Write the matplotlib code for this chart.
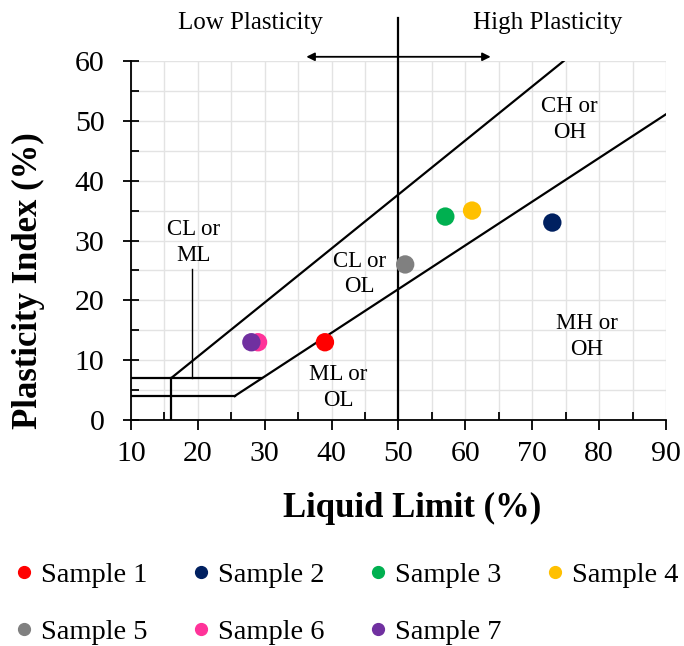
import matplotlib
matplotlib.use('Agg')
import matplotlib.pyplot as plt
from matplotlib.lines import Line2D

plt.rcParams['font.family'] = ['Liberation Serif', 'DejaVu Serif']

# sample results (liquid limit, plasticity index)
samples = ['Sample 1', 'Sample 2', 'Sample 3', 'Sample 4', 'Sample 5', 'Sample 6', 'Sample 7']
liquid_limit = [39, 73, 57, 61, 51, 29, 28]
plasticity_index = [13, 33, 34, 35, 26, 13, 13]
colors = ['#ff0000', '#002060', '#00b050', '#ffc000', '#808080', '#ff3399', '#7030a0']

# chart boundary lines
u_line_ll = [16, 74.7]
u_line_pi = [7, 60]
a_line_ll = [25.5, 90]
a_line_pi = [4, 51.1]
pi7_ll = [10, 29.6]
pi4_ll = [10, 25.5]

zone_labels = ['CH or\nOH', 'CL or\nML', 'CL or\nOL', 'ML or\nOL', 'MH or\nOH']
zone_ll = [75.6, 19.3, 44.2, 41.0, 78.2]
zone_pi = [50.2, 29.6, 24.4, 5.4, 13.9]

fig = plt.figure(figsize=(6.84, 6.46), dpi=100)
ax = fig.add_axes([0.1915, 0.3498, 0.7822, 0.5558])

ax.set_xlim(10, 90)
ax.set_ylim(0, 60)
ax.set_xticks(range(10, 91, 10))
ax.set_yticks(range(0, 61, 10))
ax.set_xticks(range(15, 90, 10), minor=True)
ax.set_yticks(range(5, 60, 10), minor=True)
ax.grid(True, which='both', color='#e3e3e3', lw=1.0, zorder=0)
ax.set_axisbelow(True)
for s in ['top', 'right']:
    ax.spines[s].set_visible(False)
for s in ['left', 'bottom']:
    ax.spines[s].set_linewidth(1.3)

ax.tick_params(axis='x', which='major', direction='out', length=7, width=1.3, pad=8, labelsize=21.5)
ax.tick_params(axis='y', which='major', direction='inout', length=12, width=1.3, pad=13, labelsize=21.5)
ax.tick_params(which='minor', direction='in', length=6, width=1.3)

lk = dict(color='black', lw=1.6, zorder=3)
ax.plot(u_line_ll, u_line_pi, **lk)
ax.plot(a_line_ll, a_line_pi, **lk)
ax.plot(pi7_ll, [7, 7], **lk)
ax.plot(pi4_ll, [4, 4], **lk)
ax.plot([16, 16], [0, 7], **lk)
ax.plot([19.1, 19.1], [7, 25.3], color='black', lw=1.0, zorder=3)
ax.plot([50, 50], [0, 67.2], clip_on=False, **lk)

ax.annotate('', xy=(35.8, 60.7), xytext=(64.2, 60.7),
            arrowprops=dict(arrowstyle='<|-|>', color='black', lw=1.3, mutation_scale=12),
            annotation_clip=False)
ax.text(27.8, 66.4, 'Low Plasticity', ha='center', va='center', fontsize=18, clip_on=False)
ax.text(72.3, 66.4, 'High Plasticity', ha='center', va='center', fontsize=18, clip_on=False)

for lab, x, y in zip(zone_labels, zone_ll, zone_pi):
    ax.text(x, y, lab, ha='center', va='center', fontsize=16.5, linespacing=1.3, zorder=4)

for x, y, c in zip(liquid_limit, plasticity_index, colors):
    ax.scatter(x, y, s=175, color=c, zorder=5, edgecolors='none')

ax.set_xlabel('Liquid Limit (%)', fontsize=25, fontweight='bold')
ax.xaxis.set_label_coords(0.525, -0.2)
ax.set_ylabel('Plasticity Index (%)', fontsize=25, fontweight='bold')
ax.yaxis.set_label_coords(-0.16, 0.387)

# legend filled column-wise, so reorder to read row by row
order = [0, 4, 1, 5, 2, 6, 3]
handles = [Line2D([], [], marker='o', ls='none', color=colors[i], markersize=8.5) for i in order]
fig.legend(handles, [samples[i] for i in order], ncol=4, loc='upper left',
           bbox_to_anchor=(0.002, 0.148), frameon=False, fontsize=20.5,
           handlelength=0.8, handletextpad=0.2, columnspacing=1.47,
           labelspacing=1.1, borderaxespad=0)

fig.savefig('out.png', dpi=100)
